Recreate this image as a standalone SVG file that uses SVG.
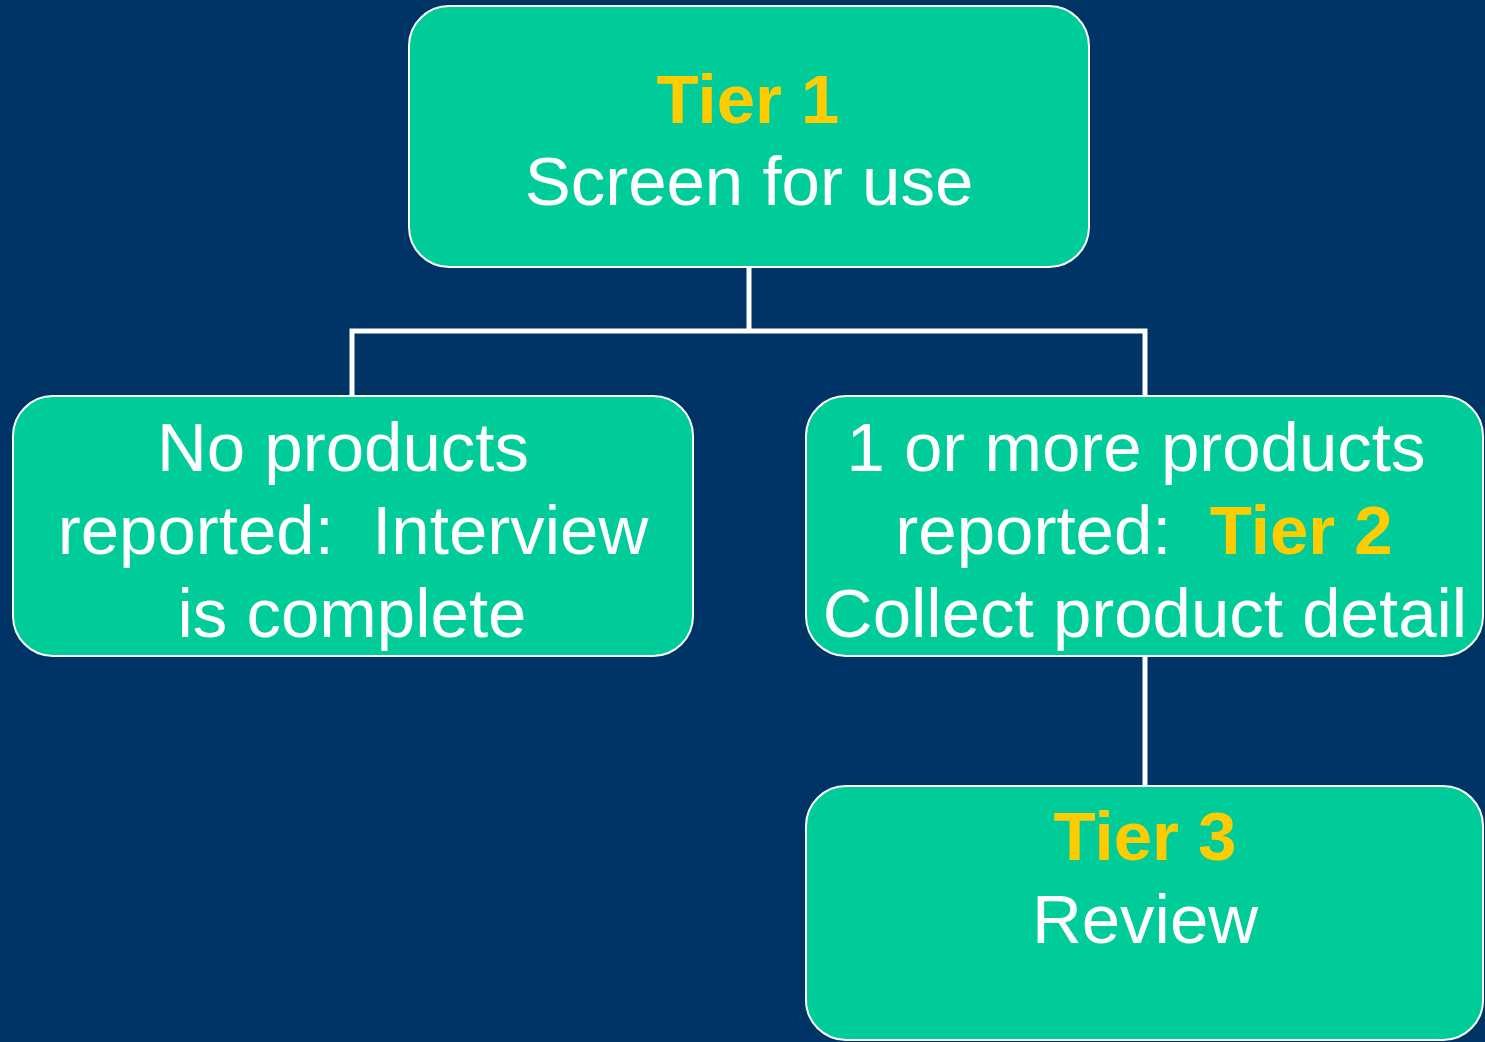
<svg xmlns="http://www.w3.org/2000/svg" width="1485" height="1042" viewBox="0 0 1485 1042">
  <style>
    .box { fill: #00CC99; stroke: #FFFFFF; stroke-width: 2; }
    .txt { font-family: "Liberation Sans", Arial, sans-serif; font-size: 69px; fill: #FFFFFF; text-anchor: middle; }
    .tier { font-weight: bold; fill: #FFCC00; }
    .link { fill: none; stroke: #FFFFFF; stroke-width: 5; stroke-linecap: butt; stroke-linejoin: miter; }
  </style>
  <rect x="0" y="0" width="1485" height="1042" fill="#003366"/>

  <g id="connectors">
    <polyline class="link" points="749,267 749,331"/>
    <polyline class="link" points="352,396 352,331 1145,331 1145,396"/>
    <polyline class="link" points="1145,656 1145,786"/>
  </g>

  <g id="tier1">
    <rect class="box" x="409" y="6" width="680" height="261" rx="40" ry="40"/>
    <text class="txt tier" x="748" y="123">Tier 1</text>
    <text class="txt" x="749" y="205">Screen for use</text>
  </g>

  <g id="no-products">
    <rect class="box" x="13" y="396" width="680" height="260" rx="40" ry="40"/>
    <text class="txt" x="343" y="471">No products</text>
    <text class="txt" x="353" y="554" xml:space="preserve">reported:  Interview</text>
    <text class="txt" x="352" y="637">is complete</text>
  </g>

  <g id="tier2">
    <rect class="box" x="806" y="396" width="677" height="260" rx="40" ry="40"/>
    <text class="txt" x="1136" y="471">1 or more products</text>
    <text class="txt" x="1144" y="554" xml:space="preserve">reported:  <tspan class="tier">Tier 2</tspan></text>
    <text class="txt" x="1145" y="637">Collect product detail</text>
  </g>

  <g id="tier3">
    <rect class="box" x="806" y="786" width="677" height="254" rx="40" ry="40"/>
    <text class="txt tier" x="1145" y="860">Tier 3</text>
    <text class="txt" x="1145" y="943">Review</text>
  </g>
</svg>
